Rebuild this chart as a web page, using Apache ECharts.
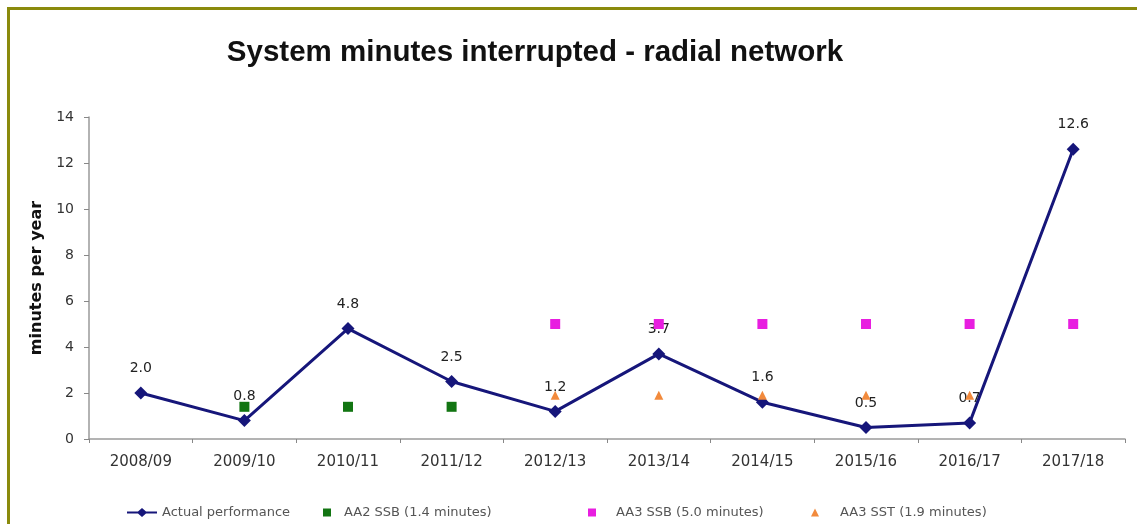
<!DOCTYPE html>
<html>
<head>
<meta charset="utf-8">
<script src="https://cdn.jsdelivr.net/npm/echarts@6/dist/echarts.min.js"></script>
<style>
  html, body { margin: 0; padding: 0; width: 1137px; height: 524px; overflow: hidden; background: #fff; }
  #frame { position: absolute; left: 7px; top: 7px; width: 1150px; height: 540px; border: 3px solid #8a8a0c; box-sizing: border-box; }
  #chart { position: absolute; left: 0; top: 0; width: 1137px; height: 524px; }
</style>
</head>
<body>
<div id="frame"></div>
<div id="chart"></div>
<script>
// Financial years on the category axis
const years = ['2008/09', '2009/10', '2010/11', '2011/12', '2012/13', '2013/14', '2014/15', '2015/16', '2016/17', '2017/18'];
// Actual system minutes interrupted per year
const actual = [2.0, 0.8, 4.8, 2.5, 1.2, 3.7, 1.6, 0.5, 0.7, 12.6];
// Performance targets (null where a target did not apply)
const aa2SSB = [null, 1.4, 1.4, 1.4, null, null, null, null, null, null];
const aa3SSB = [null, null, null, null, 5.0, 5.0, 5.0, 5.0, 5.0, 5.0];
const aa3SST = [null, null, null, null, 1.9, 1.9, 1.9, 1.9, 1.9, null];
// Value axis ticks
const yTicks = [0, 2, 4, 6, 8, 10, 12, 14];

const NAVY = '#16167a', GREEN = '#127512', MAGENTA = '#e81ee0', ORANGE = '#f28a3c';
const BODY_FONT = 'DejaVu Sans, Verdana, sans-serif';

const chart = echarts.init(document.getElementById('chart'), null, { renderer: 'canvas' });

// One legend box per entry so each can sit at its own place along the bottom
function legendEntry(name, icon, left, w, h, gap) {
  return {
    data: [{ name: name, icon: icon }],
    left: left, top: 501, itemWidth: w, itemHeight: h,
    textStyle: { fontSize: 13, color: '#555', fontFamily: BODY_FONT, padding: [0, 0, 0, gap] }
  };
}

chart.setOption({
  backgroundColor: 'transparent',
  animation: false,
  textStyle: { fontFamily: BODY_FONT },
  title: {
    text: 'System minutes interrupted - radial network',
    left: 530, top: 33, textAlign: 'center',
    textStyle: { fontSize: 29.5, fontWeight: 'bold', color: '#111', fontFamily: 'Liberation Sans, Arial, sans-serif' }
  },
  grid: { left: 89, right: 12, top: 117, bottom: 85, containLabel: false },
  legend: [
    legendEntry('Actual performance', 'path://M0,3.5 L11,3.5 L15,0 L19,3.5 L30,3.5 L30,5.5 L19,5.5 L15,9 L11,5.5 L0,5.5 Z', 122, 30, 9, 0),
    legendEntry('AA2 SSB (1.4 minutes)', 'rect', 318, 8, 8, 8),
    legendEntry('AA3 SSB (5.0 minutes)', 'rect', 583, 8, 8, 15),
    legendEntry('AA3 SST (1.9 minutes)', 'triangle', 806, 8, 8, 16)
  ],
  xAxis: {
    type: 'category', data: years, boundaryGap: true,
    axisLine: { lineStyle: { color: '#9a9a9a', width: 1.5 } },
    axisTick: { show: true, length: 4, inside: false, lineStyle: { color: '#888' } },
    axisLabel: { fontSize: 15, color: '#333', margin: 16, fontFamily: BODY_FONT }
  },
  yAxis: {
    type: 'value', min: yTicks[0], max: yTicks[yTicks.length - 1], interval: 2,
    name: 'minutes per year', nameLocation: 'middle', nameGap: 42, nameRotate: 90,
    nameTextStyle: { fontSize: 16, fontWeight: 'bold', color: '#111', fontFamily: BODY_FONT },
    axisLine: { show: true, lineStyle: { color: '#9a9a9a', width: 1.5 } },
    axisTick: { show: true, length: 5, lineStyle: { color: '#888' } },
    axisLabel: { fontSize: 14, color: '#333', margin: 15, fontFamily: BODY_FONT },
    splitLine: { show: false }
  },
  series: [
    {
      name: 'AA3 SSB (5.0 minutes)', type: 'scatter', data: aa3SSB,
      symbol: 'rect', symbolSize: 10, itemStyle: { color: MAGENTA, opacity: 1 }, z: 3
    },
    {
      name: 'AA2 SSB (1.4 minutes)', type: 'scatter', data: aa2SSB,
      symbol: 'rect', symbolSize: 10, itemStyle: { color: GREEN, opacity: 1 }, z: 3
    },
    {
      name: 'AA3 SST (1.9 minutes)', type: 'scatter', data: aa3SST,
      symbol: 'triangle', symbolSize: 9, itemStyle: { color: ORANGE, opacity: 1 }, z: 3
    },
    {
      name: 'Actual performance', type: 'line', data: actual,
      symbol: 'diamond', symbolSize: 13, showAllSymbol: true,
      lineStyle: { color: NAVY, width: 3 },
      itemStyle: { color: NAVY },
      label: {
        show: true, position: 'top', distance: 11, fontSize: 14, color: '#222', fontFamily: BODY_FONT,
        formatter: p => p.value.toFixed(1)
      },
      z: 2
    }
  ]
});
</script>
</body>
</html>
